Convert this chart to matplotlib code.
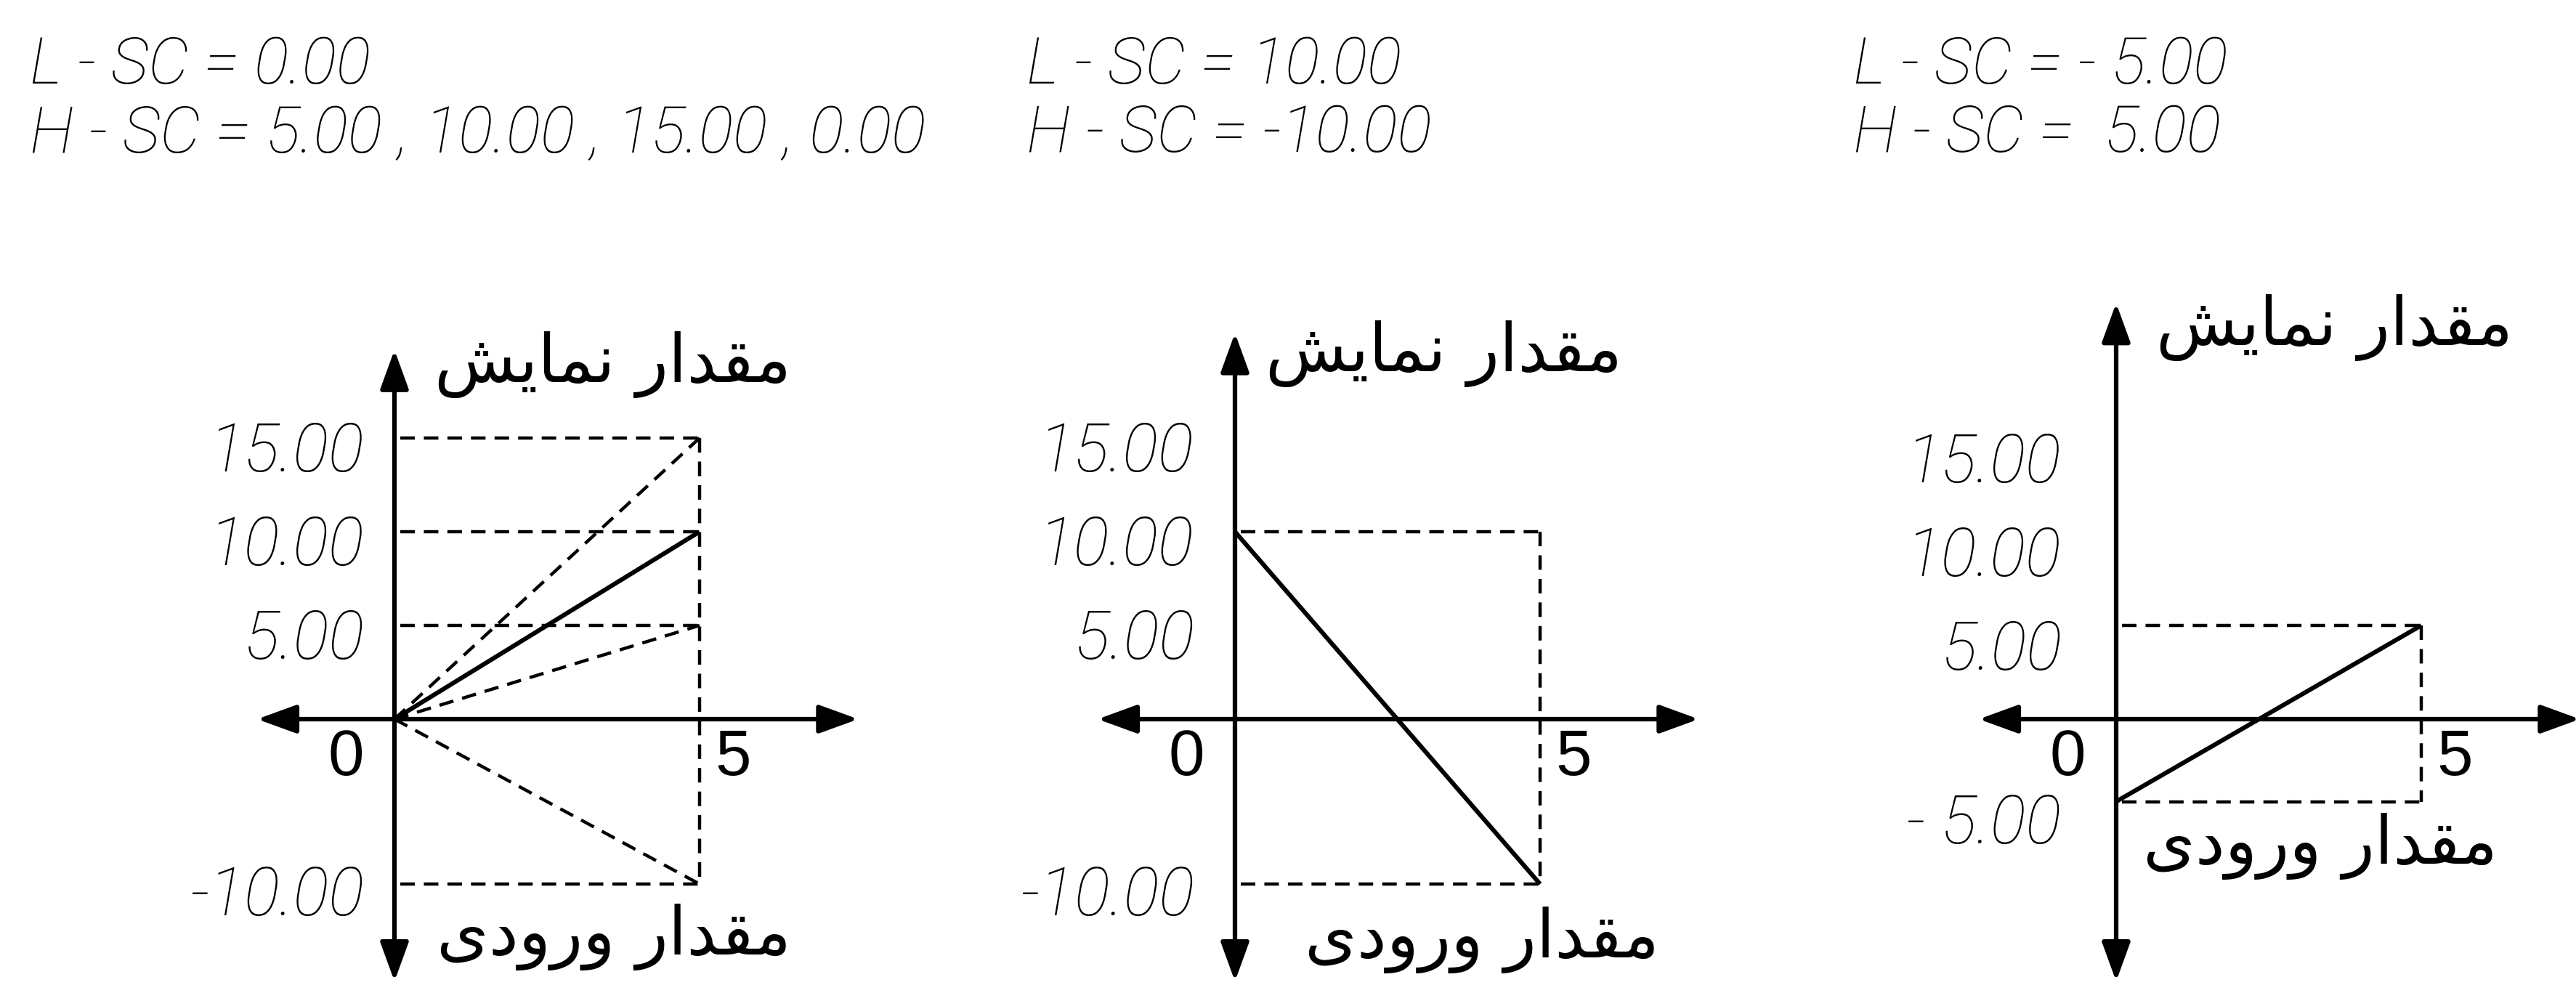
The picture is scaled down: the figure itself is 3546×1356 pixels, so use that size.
import matplotlib
matplotlib.use("Agg")
import matplotlib.pyplot as plt
import numpy as np

# values
x_end = 5
low_sc = [0.0, 10.0, -5.0]
high_sc = [10.0, -10.0, 5.0]
extra_high_sc = [[15.0, 5.0, -10.0], [], []]
y_ticks = [[15, 10, 5, -10], [15, 10, 5, -10], [15, 10, 5, -5]]
y_tick_labels = [["15.00", "10.00", "5.00", "-10.00"],
                 ["15.00", "10.00", "5.00", "-10.00"],
                 ["15.00", "10.00", "5.00", "- 5.00"]]
x_ticks = [0, 5]
x_tick_labels = ["0", "5"]
header_l = ["L - SC = 0.00", "L - SC = 10.00", "L - SC = - 5.00"]
header_h = ["H - SC = 5.00 , 10.00 , 15.00 , 0.00", "H - SC = -10.00", "H - SC =  5.00"]

# "مقدار نمایش" and "مقدار ورودی", pre-shaped in visual order
y_label = "\uFEB6\uFEF3\uFE8E\uFEE4\uFEE7 \uFEAD\uFE8D\uFEAA\uFED8\uFEE3"
x_label = "\uFEEF\uFEA9\uFEED\uFEAD\uFEED \uFEAD\uFE8D\uFEAA\uFED8\uFEE3"

W, H = 3546, 1356
fig = plt.figure(figsize=(W / 100, H / 100), dpi=100)

# layout (pixels of the output image)
origin_x = [543, 1700, 2913]
origin_y = 990
px_x, px_y = 84, 25.8
neg_squeeze = 0.88
y_top = [19.7, 20.6, 22.2]
tick_dx = [-0.5, -0.67, -0.9]
tick_dy = [-0.8, -0.8, -1.4]
ylab_pos = [(6.5, 18.9), (6.35, 19.5), (6.5, 20.9)]
xlab_pos = [(6.5, -13.2), (6.95, -13.4), (6.25, -7.7)]
header_x = [41, 1413, 2551]

lcd = dict(family="Roboto", style="italic", weight="light", color="black")
arial = dict(family="Liberation Sans", color="black")
farsi = dict(family="DejaVu Sans", color="black")


def fwd(y):
    y = np.asarray(y, dtype=float)
    return np.where(y < 0, y * neg_squeeze, y)


def inv(y):
    y = np.asarray(y, dtype=float)
    return np.where(y < 0, y / neg_squeeze, y)


xlo, xhi, ylo, yhi = -3, 9, -16.5, 24
for i, ox in enumerate(origin_x):
    left = ox + xlo * px_x
    width = (xhi - xlo) * px_x
    top = origin_y - yhi * px_y
    bottom = origin_y - float(fwd(ylo)) * px_y
    ax = fig.add_axes([left / W, 1 - bottom / H, width / W, (bottom - top) / H])
    ax.set_yscale("function", functions=(fwd, inv))
    ax.set_xlim(xlo, xhi)
    ax.set_ylim(ylo, yhi)
    ax.axis("off")

    # arrowed axes
    arrow = dict(arrowstyle="<|-|>,head_length=0.55,head_width=0.2", mutation_scale=60,
                 lw=4.5, color="black", shrinkA=0, shrinkB=0)
    ax.annotate("", xy=(7.6, 0), xytext=(-2.25, 0), arrowprops=arrow)
    ax.annotate("", xy=(0, y_top[i]), xytext=(0, -15.9), arrowprops=arrow)

    # dashed guide lines
    dash = dict(color="black", lw=3.2, ls=(0, (4.5, 2.8)), clip_on=False)
    levels = [v for v in [low_sc[i], high_sc[i]] + extra_high_sc[i] if v != 0]
    for lv in levels:
        ax.plot([0.1, x_end], [lv, lv], **dash)
    ax.plot([x_end, x_end], [max(levels), min(levels)], **dash)
    for hv in extra_high_sc[i]:
        ax.plot([0, x_end], [low_sc[i], hv], **dash)

    # scaling line
    ax.plot([0, x_end], [low_sc[i], high_sc[i]], color="black", lw=4.4,
            solid_capstyle="butt", clip_on=False)

    for v, t in zip(y_ticks[i], y_tick_labels[i]):
        ax.text(tick_dx[i], v + tick_dy[i], t, ha="right", va="center", fontsize=66, **lcd)
    for v, t in zip(x_ticks, x_tick_labels):
        ax.text(v - 0.8 if v == 0 else v + 0.55, -2.4, t, ha="center", va="center",
                fontsize=64, **arial)

    ax.text(*ylab_pos[i], y_label, ha="right", va="center", fontsize=66, **farsi)
    ax.text(*xlab_pos[i], x_label, ha="right", va="center", fontsize=66, **farsi)

    fig.text(header_x[i] / W, 1 - 90 / H, header_l[i], ha="left", va="center", fontsize=64, **lcd)
    fig.text(header_x[i] / W, 1 - 185 / H, header_h[i], ha="left", va="center", fontsize=64, **lcd)

fig.savefig("out.png", dpi=100, facecolor="white")
